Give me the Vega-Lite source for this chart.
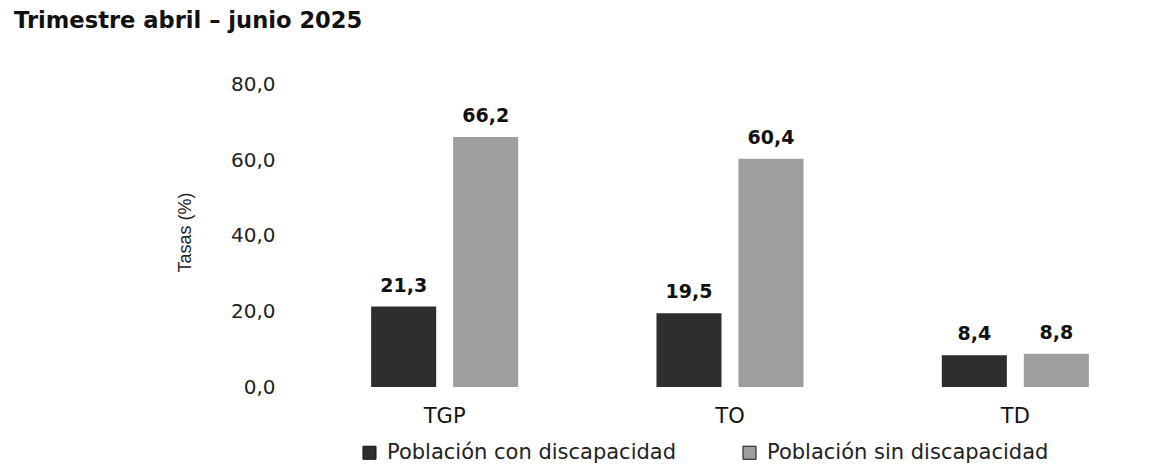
{
  "$schema": "https://vega.github.io/schema/vega-lite/v6.json",
  "autosize": {"type": "none"},
  "padding": {"left": 302, "top": 47, "right": 0, "bottom": 86},
  "width": 856,
  "height": 340,
  "background": "white",
  "config": {
    "locale": {"number": {"decimal": ",", "thousands": ".", "grouping": [3], "currency": ["", ""]}},
    "font": "DejaVu Sans",
    "view": {"stroke": null}
  },
  "title": {
    "text": "Trimestre abril – junio 2025",
    "anchor": "start",
    "frame": "group",
    "dx": -288,
    "offset": 14,
    "fontSize": 22.6,
    "fontWeight": "bold",
    "color": "#111111",
    "font": "DejaVu Sans"
  },
  "data": {
    "values": [
      {"indicador": "TGP", "grupo": "Población con discapacidad", "valor": 21.3},
      {"indicador": "TGP", "grupo": "Población sin discapacidad", "valor": 66.2},
      {"indicador": "TO", "grupo": "Población con discapacidad", "valor": 19.5},
      {"indicador": "TO", "grupo": "Población sin discapacidad", "valor": 60.4},
      {"indicador": "TD", "grupo": "Población con discapacidad", "valor": 8.4},
      {"indicador": "TD", "grupo": "Población sin discapacidad", "valor": 8.8}
    ]
  },
  "encoding": {
    "x": {
      "field": "indicador",
      "type": "nominal",
      "sort": ["TGP", "TO", "TD"],
      "scale": {"paddingInner": 0, "paddingOuter": 0},
      "axis": {"title": null, "labelAngle": 0, "domain": false, "ticks": false, "labelPadding": 18, "labelFontSize": 21, "labelColor": "#111111"}
    },
    "xOffset": {
      "field": "grupo",
      "type": "nominal",
      "scale": {"paddingInner": 0.207, "paddingOuter": 0.843}
    },
    "y": {
      "field": "valor",
      "type": "quantitative",
      "scale": {"domain": [0, 90], "nice": false},
      "axis": {
        "title": "Tasas (%)",
        "values": [0, 20, 40, 60, 80],
        "format": ".1f",
        "grid": false,
        "domain": false,
        "ticks": false,
        "labelPadding": 27,
        "labelFontSize": 20,
        "labelColor": "#222222",
        "titleFont": "Liberation Sans",
        "titleFontSize": 18,
        "titleFontWeight": "normal",
        "titleColor": "#222222",
        "titlePadding": 36,
        "titleY": 185
      }
    }
  },
  "layer": [
    {
      "mark": {"type": "bar"},
      "encoding": {
        "color": {
          "field": "grupo",
          "type": "nominal",
          "scale": {"domain": ["Población con discapacidad", "Población sin discapacidad"], "range": ["#2e2e2e", "#9e9e9e"]},
          "legend": {
            "title": null,
            "orient": "none",
            "direction": "horizontal",
            "legendX": 57,
            "legendY": 395,
            "symbolType": "square",
            "symbolSize": 170,
            "symbolStrokeColor": "#111111",
            "symbolStrokeWidth": 1,
            "labelFontSize": 21,
            "labelColor": "#222222",
            "labelLimit": 400,
            "labelOffset": 7,
            "columnPadding": 62
          }
        }
      }
    },
    {
      "mark": {"type": "text", "dy": -21, "fontSize": 19, "fontWeight": "bold", "color": "#111111"},
      "encoding": {
        "text": {"field": "valor", "type": "quantitative", "format": ".1f"}
      }
    }
  ]
}
